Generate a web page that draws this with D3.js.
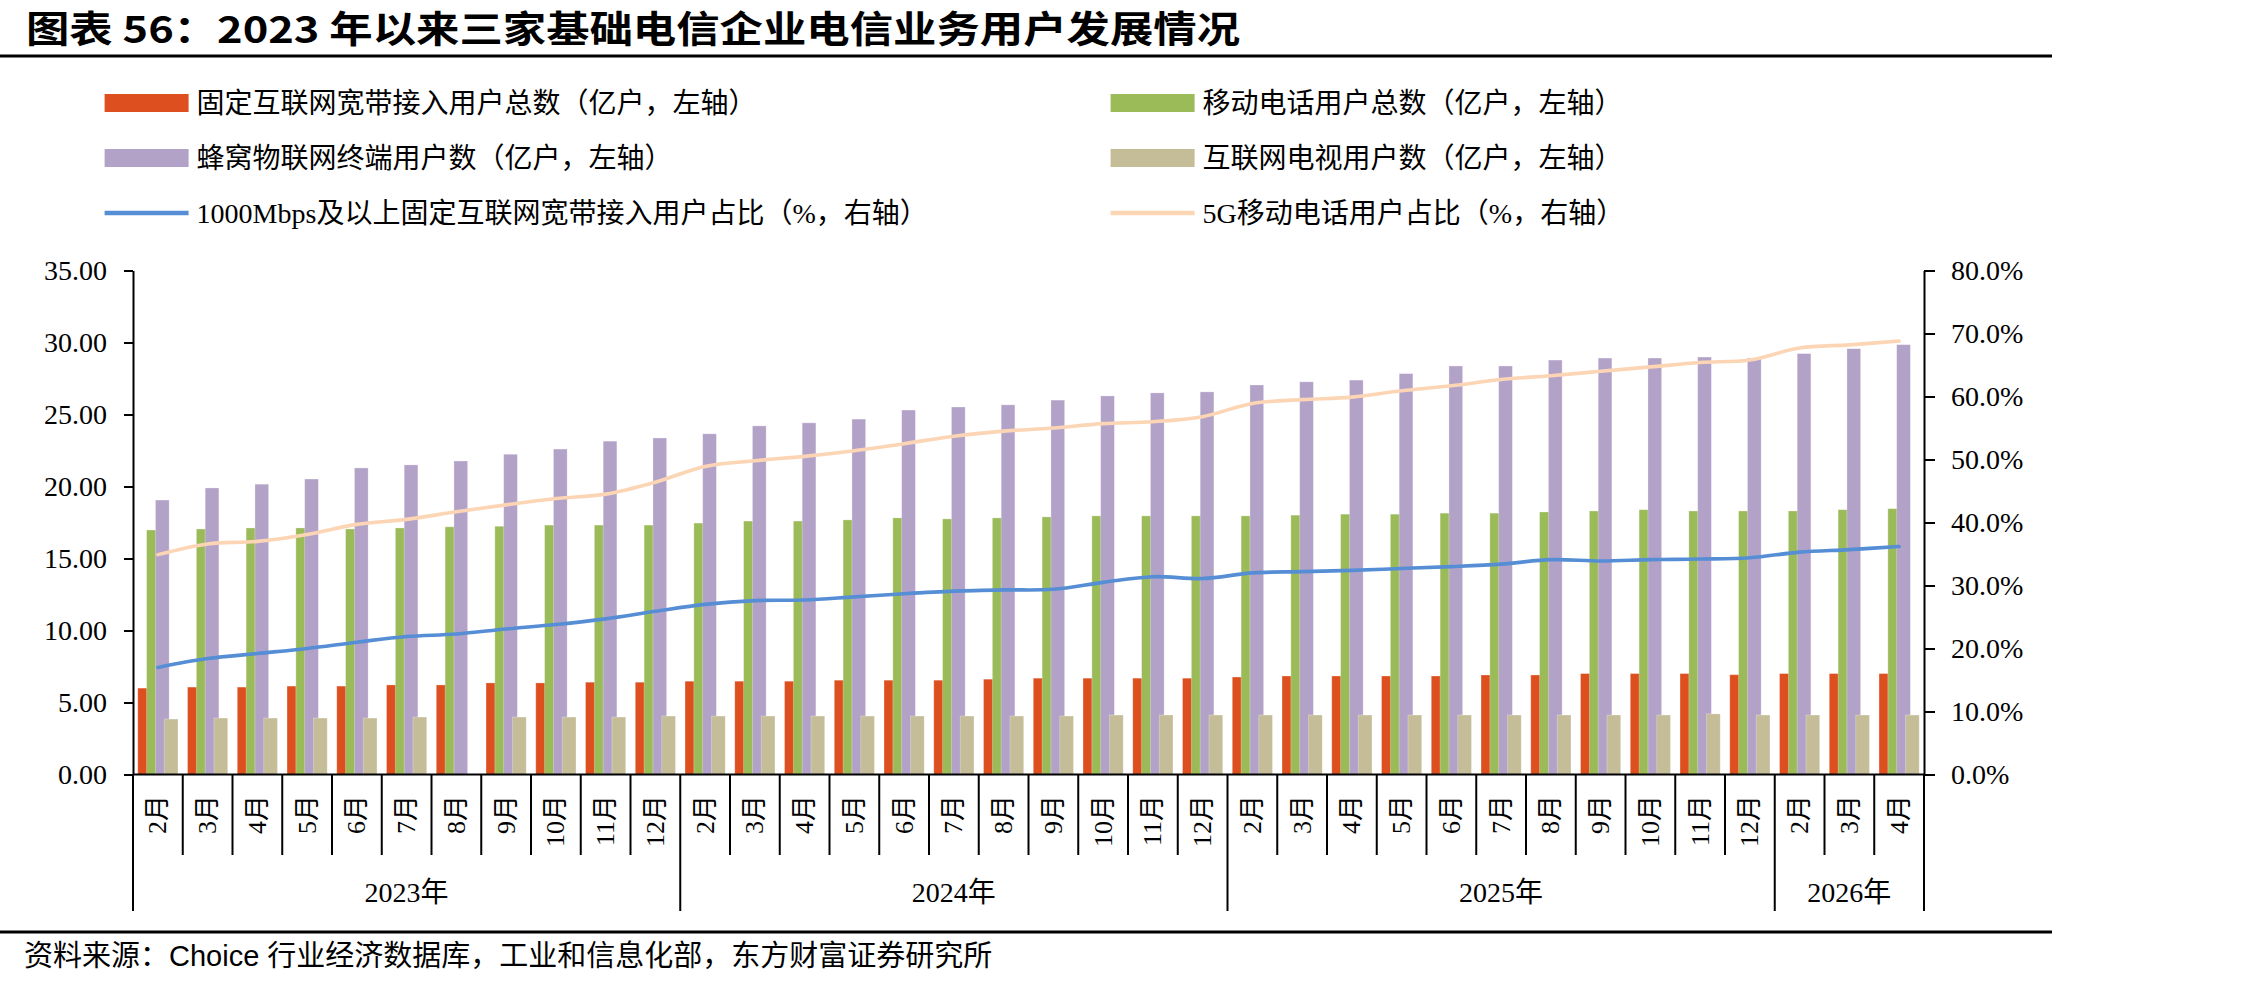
<!DOCTYPE html>
<html>
<head>
<meta charset="utf-8">
<script src="https://cdn.jsdelivr.net/npm/d3@7"></script>
<style>
  body { margin: 0; background: #fff; }
  svg { display: block; }
</style>
</head>
<body>
<script>
// categories: month labels along the x axis, grouped by year
var monthLabels = [
  "2月","3月","4月","5月","6月","7月","8月","9月","10月","11月","12月",
  "2月","3月","4月","5月","6月","7月","8月","9月","10月","11月","12月",
  "2月","3月","4月","5月","6月","7月","8月","9月","10月","11月","12月",
  "2月","3月","4月"
];
var yearLabels = ["2023年", "2024年", "2025年", "2026年"];
var yearSpans = [11, 11, 11, 3];

// series values (亿户, left axis)
var broadband = [6.00, 6.07, 6.07, 6.14, 6.14, 6.22, 6.22, 6.36, 6.36, 6.41, 6.41,
                 6.48, 6.48, 6.48, 6.55, 6.55, 6.55, 6.62, 6.69, 6.69, 6.69, 6.69,
                 6.77, 6.84, 6.84, 6.84, 6.84, 6.91, 6.91, 7.01, 7.01, 7.01, 6.93,
                 7.01, 7.01, 7.01];
var mobile = [16.98, 17.05, 17.12, 17.12, 17.05, 17.12, 17.20, 17.24, 17.32, 17.32, 17.32,
              17.46, 17.60, 17.60, 17.68, 17.82, 17.75, 17.82, 17.89, 17.96, 17.96, 17.96,
              17.96, 18.01, 18.08, 18.08, 18.15, 18.15, 18.23, 18.30, 18.39, 18.30, 18.30,
              18.30, 18.39, 18.46];
var iot = [19.06, 19.90, 20.16, 20.52, 21.29, 21.50, 21.77, 22.24, 22.60, 23.15, 23.37,
           23.66, 24.21, 24.42, 24.68, 25.31, 25.52, 25.67, 26.00, 26.29, 26.50, 26.57,
           27.05, 27.27, 27.39, 27.84, 28.37, 28.37, 28.78, 28.92, 28.92, 28.99, 28.92,
           29.23, 29.57, 29.85];
var iptv = [3.85, 3.92, 3.92, 3.92, 3.92, 3.99, null, 3.99, 3.99, 3.99, 4.06,
            4.06, 4.06, 4.06, 4.06, 4.06, 4.06, 4.06, 4.06, 4.13, 4.13, 4.13,
            4.13, 4.13, 4.13, 4.13, 4.13, 4.13, 4.13, 4.13, 4.13, 4.21, 4.13,
            4.13, 4.13, 4.13];

// shares (%, right axis)
var gigabitShare = [17.0, 18.4, 19.2, 20.0, 21.0, 21.9, 22.3, 23.1, 23.8, 24.7, 25.9,
                    27.0, 27.6, 27.7, 28.2, 28.7, 29.1, 29.3, 29.4, 30.5, 31.4, 31.1,
                    32.0, 32.2, 32.4, 32.7, 33.0, 33.4, 34.1, 33.9, 34.1, 34.2, 34.4,
                    35.3, 35.7, 36.2];
var fiveGShare = [34.9, 36.6, 37.0, 38.1, 39.7, 40.5, 41.7, 42.8, 43.8, 44.5, 46.4,
                  48.9, 49.8, 50.5, 51.4, 52.5, 53.7, 54.5, 55.0, 55.7, 56.0, 56.8,
                  58.9, 59.5, 59.9, 60.9, 61.7, 62.7, 63.3, 64.0, 64.7, 65.4, 65.8,
                  67.7, 68.2, 68.8];

var leftTicks = [0, 5, 10, 15, 20, 25, 30, 35];
var rightTicks = [0, 10, 20, 30, 40, 50, 60, 70, 80];

var barSeries = [
  {name: "固定互联网宽带接入用户总数（亿户，左轴）", values: broadband, color: "#DE4F1F"},
  {name: "移动电话用户总数（亿户，左轴）", values: mobile, color: "#9BBB59"},
  {name: "蜂窝物联网终端用户数（亿户，左轴）", values: iot, color: "#B3A2C7"},
  {name: "互联网电视用户数（亿户，左轴）", values: iptv, color: "#C4BD97"}
];
var lineSeries = [
  {name: "1000Mbps及以上固定互联网宽带接入用户占比（%，右轴）", values: gigabitShare, color: "#558ED5"},
  {name: "5G移动电话用户占比（%，右轴）", values: fiveGShare, color: "#FCD5B5"}
];

var w = 2245, h = 986;
var plotLeft = 133, plotRight = 1924, plotTop = 270.5, plotBottom = 774.5;

var serif = "'Liberation Serif', 'Noto Sans CJK SC', serif";
var sans = "'Liberation Sans', 'Noto Sans CJK SC', sans-serif";

var svg = d3.select("body").append("svg")
    .attr("width", w)
    .attr("height", h);

// title and rules
svg.append("text")
    .attr("x", 26)
    .attr("y", 43)
    .attr("font-family", "'Noto Sans CJK SC', sans-serif")
    .attr("font-weight", 700)
    .attr("font-size", 37)
    .attr("textLength", 1214)
    .attr("lengthAdjust", "spacingAndGlyphs")
    .text("图表 56：2023 年以来三家基础电信企业电信业务用户发展情况");

svg.append("line")
    .attr("x1", 0).attr("x2", 2052)
    .attr("y1", 56).attr("y2", 56)
    .attr("stroke", "#000").attr("stroke-width", 3);

svg.append("line")
    .attr("x1", 0).attr("x2", 2052)
    .attr("y1", 932).attr("y2", 932)
    .attr("stroke", "#000").attr("stroke-width", 3);

svg.append("text")
    .attr("x", 24)
    .attr("y", 956)
    .attr("dominant-baseline", "central")
    .attr("font-family", sans)
    .attr("font-size", 29)
    .text("资料来源：Choice 行业经济数据库，工业和信息化部，东方财富证券研究所");

// legend
var legendItems = [
  {s: barSeries[0], type: "bar", x: 104.6, y: 103},
  {s: barSeries[1], type: "bar", x: 1110.6, y: 103},
  {s: barSeries[2], type: "bar", x: 104.6, y: 158},
  {s: barSeries[3], type: "bar", x: 1110.6, y: 158},
  {s: lineSeries[0], type: "line", x: 104.6, y: 213},
  {s: lineSeries[1], type: "line", x: 1110.6, y: 213}
];

var lg = svg.selectAll("g.legend")
  .data(legendItems)
  .enter().append("g")
    .attr("class", "legend")
    .attr("transform", function(d) { return "translate(" + d.x + "," + d.y + ")"; });

lg.filter(function(d) { return d.type == "bar"; })
  .append("rect")
    .attr("x", 0).attr("y", -9)
    .attr("width", 84).attr("height", 18)
    .attr("fill", function(d) { return d.s.color; });

lg.filter(function(d) { return d.type == "line"; })
  .append("line")
    .attr("x1", 0).attr("x2", 84)
    .attr("y1", 0).attr("y2", 0)
    .attr("stroke", function(d) { return d.s.color; })
    .attr("stroke-width", 4.5);

lg.append("text")
    .attr("x", 92)
    .attr("y", 0)
    .attr("dominant-baseline", "central")
    .attr("font-family", serif)
    .attr("font-size", 28)
    .text(function(d) { return d.s.name; });

// scales
var x = d3.scaleBand()
    .domain(d3.range(monthLabels.length))
    .range([plotLeft, plotRight])
    .paddingInner(0)
    .paddingOuter(0);

var yL = d3.scaleLinear().domain([0, 35]).range([plotBottom, plotTop]);
var yR = d3.scaleLinear().domain([0, 80]).range([plotBottom, plotTop]);

// overlapping clustered bars: width 13.7, step 8.8
var barW = 13.7;
var sub = d3.scaleLinear().domain([0, 3]).range([-20.1, 20.1 - barW]);

barSeries.forEach(function(s, si) {
  svg.append("g")
    .selectAll("rect")
    .data(s.values.map(function(v, i) { return {v: v, i: i}; })
                  .filter(function(d) { return d.v != null; }))
    .enter().append("rect")
      .attr("x", function(d) { return x(d.i) + x.bandwidth() / 2 + sub(si); })
      .attr("y", function(d) { return yL(d.v); })
      .attr("width", barW)
      .attr("height", function(d) { return yL(0) - yL(d.v); })
      .attr("fill", s.color)
      .attr("stroke", "#fff")
      .attr("stroke-opacity", 0.35)
      .attr("stroke-width", 0.8);
});

// lines on right axis
var line = d3.line()
    .x(function(d, i) { return x(i) + x.bandwidth() / 2; })
    .y(function(d) { return yR(d); })
    .curve(d3.curveCatmullRom.alpha(0.5));

lineSeries.forEach(function(s) {
  svg.append("path")
    .datum(s.values)
    .attr("d", line)
    .attr("fill", "none")
    .attr("stroke", s.color)
    .attr("stroke-width", 3.6)
    .attr("stroke-linejoin", "round")
    .attr("stroke-linecap", "round");
});

// left axis
var gL = svg.append("g")
    .attr("transform", "translate(" + plotLeft + ",0)")
    .call(d3.axisLeft(yL)
      .tickValues(leftTicks)
      .tickFormat(d3.format(".2f"))
      .tickSize(9)
      .tickSizeOuter(0)
      .tickPadding(17));

// right axis
var gR = svg.append("g")
    .attr("transform", "translate(" + plotRight + ",0)")
    .call(d3.axisRight(yR)
      .tickValues(rightTicks)
      .tickFormat(function(d) { return d.toFixed(1) + "%"; })
      .tickSize(11)
      .tickSizeOuter(0)
      .tickPadding(16));

[gL, gR].forEach(function(g) {
  g.selectAll("path, line").attr("stroke", "#000").attr("stroke-width", 2);
  g.selectAll("text")
    .attr("font-family", serif)
    .attr("font-size", 28)
    .attr("fill", "#000");
});

// x axis baseline and category separators
svg.append("line")
    .attr("x1", plotLeft).attr("x2", plotRight)
    .attr("y1", plotBottom).attr("y2", plotBottom)
    .attr("stroke", "#000").attr("stroke-width", 2);

var yearStarts = [0];
yearSpans.forEach(function(n, i) { yearStarts.push(yearStarts[i] + n); });

svg.append("g")
  .selectAll("line")
  .data(d3.range(monthLabels.length + 1))
  .enter().append("line")
    .attr("x1", function(k) { return k < monthLabels.length ? x(k) : plotRight; })
    .attr("x2", function(k) { return k < monthLabels.length ? x(k) : plotRight; })
    .attr("y1", plotBottom)
    .attr("y2", function(k) { return yearStarts.indexOf(k) >= 0 ? 911 : 855; })
    .attr("stroke", "#000")
    .attr("stroke-width", 2);

svg.append("g")
  .selectAll("text")
  .data(monthLabels)
  .enter().append("text")
    .attr("transform", function(d, i) {
      return "translate(" + (x(i) + x.bandwidth() / 2) + ",795) rotate(-90)";
    })
    .attr("text-anchor", "end")
    .attr("dominant-baseline", "central")
    .attr("font-family", serif)
    .attr("font-size", 26)
    .text(function(d) { return d; });

svg.append("g")
  .selectAll("text")
  .data(yearLabels)
  .enter().append("text")
    .attr("x", function(d, i) {
      var a = x(yearStarts[i]);
      var b = yearStarts[i + 1] < monthLabels.length ? x(yearStarts[i + 1]) : plotRight;
      return (a + b) / 2;
    })
    .attr("y", 892)
    .attr("text-anchor", "middle")
    .attr("dominant-baseline", "central")
    .attr("font-family", serif)
    .attr("font-size", 28)
    .text(function(d) { return d; });
</script>
</body>
</html>
